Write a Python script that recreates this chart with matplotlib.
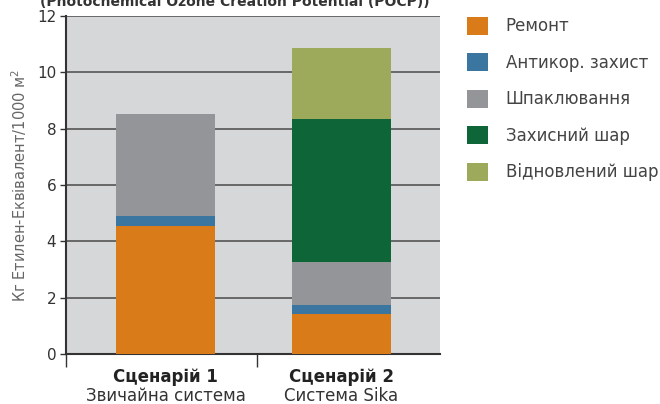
import matplotlib.pyplot as plt
from matplotlib.patches import Patch

plt.rcParams['font.family'] = ['DejaVu Sans']

scenarios = ["Сценарій 1", "Сценарій 2"]
subtitles = ["Звичайна система", "Система Sika"]
layers = ["Ремонт", "Антикор. захист", "Шпаклювання", "Захисний шар", "Відновлений шар"]
remont = [4.55, 1.43]
antikor = [0.35, 0.31]
shpakl = [3.62, 1.53]
zakhysnyi = [0.0, 5.07]
vidnovl = [0.0, 2.52]
colors = ["#DA7B1A", "#3A76A0", "#939598", "#0E6638", "#9EAA5B"]

series = [remont, antikor, shpakl, zakhysnyi, vidnovl]

fig = plt.figure(figsize=(6.6, 4.04), dpi=100)
ax = fig.add_axes([0.1, 0.1238, 0.5667, 0.8366])
ax.set_facecolor("#D6D7D9")

x = list(range(len(scenarios)))
bottom = [0.0] * len(scenarios)
for vals, col in zip(series, colors):
    ax.bar(x, vals, width=0.5625, bottom=bottom, color=col, zorder=3)
    bottom = [b + v for b, v in zip(bottom, vals)]

ax.set_ylim(0, 12)
ax.set_xlim(-0.565, 1.56)
ax.set_yticks(range(0, 13, 2))
ax.yaxis.grid(True, color="#555555", linewidth=1.2, zorder=1)
ax.set_axisbelow(True)
ax.tick_params(axis="y", length=4, width=1, color="#333333", labelsize=11, labelcolor="#333333", pad=3)

ax.set_xticks([-0.565, 0.52])
ax.set_xticklabels([])
ax.tick_params(axis="x", length=9, width=1, color="#333333", direction="out")

for side in ["top", "right"]:
    ax.spines[side].set_visible(False)
ax.spines["left"].set_color("#333333")
ax.spines["left"].set_linewidth(1.5)
ax.spines["bottom"].set_color("#333333")
ax.spines["bottom"].set_linewidth(1.5)

for xi, name, sub in zip(x, scenarios, subtitles):
    ax.text(xi, -0.068, name, transform=ax.get_xaxis_transform(), ha="center", va="center",
            fontsize=12, fontweight="bold", color="#222222")
    ax.text(xi, -0.125, sub, transform=ax.get_xaxis_transform(), ha="center", va="center",
            fontsize=12, color="#333333")

ax.set_ylabel("Кг Етилен-Еквівалент/1000 м$^2$", fontsize=10.5, color="#666666", labelpad=6)

# title cut off at the top edge of the original
fig.text(0.06, 0.984, "(Photochemical Ozone Creation Potential (POCP))", ha="left", va="baseline",
         fontsize=10, fontweight="bold", color="#333333")

handles = [Patch(facecolor=c, edgecolor="none") for c in colors]
fig.legend(handles, layers, loc="upper left", bbox_to_anchor=(0.685, 0.995), frameon=False,
           fontsize=12, handlelength=1.26, handleheight=1.26, labelspacing=1.08,
           handletextpad=1.05, labelcolor="#444444")

fig.savefig("out.png", dpi=100)
